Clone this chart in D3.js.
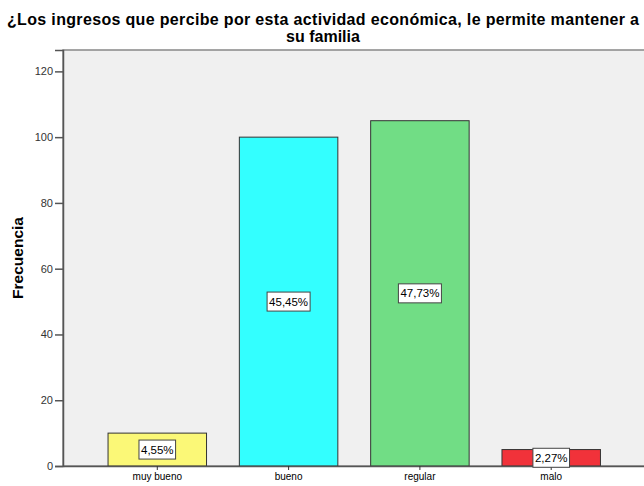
<!DOCTYPE html>
<html>
<head>
<meta charset="utf-8">
<script src="https://cdn.jsdelivr.net/npm/d3@7"></script>
<style>
  body { margin: 0; background: #fff; }
  svg { display: block; font-family: "Liberation Sans", Arial, sans-serif; }
</style>
</head>
<body>
<div id="chart-area"></div>
<script>
// data
var categories = ["muy bueno", "bueno", "regular", "malo"];
var frequencies = [10, 100, 105, 5];
var percentLabels = ["4,55%", "45,45%", "47,73%", "2,27%"];
var barColors = ["#fbf877", "#33ffff", "#71dd85", "#f1323a"];
var yTicks = [0, 20, 40, 60, 80, 100, 120];
var titleLines = ["¿Los ingresos que percibe por esta actividad económica, le permite mantener a", "su familia"];

var width = 644, height = 486;
var plotLeft = 63, plotTop = 50, plotRight = 645.5, plotBottom = 466;

var svg = d3.select("#chart-area")
	.append("svg")
	.attr("width", width)
	.attr("height", height);

var x = d3.scaleBand()
	.domain(categories)
	.range([plotLeft, plotRight])
	.paddingInner(0.25)
	.paddingOuter(0.343);

var y = d3.scaleLinear()
	.domain([0, 126.5])
	.range([plotBottom, plotTop]);

// plot background
svg.append("rect")
	.attr("x", plotLeft).attr("y", plotTop)
	.attr("width", plotRight - plotLeft).attr("height", plotBottom - plotTop)
	.attr("fill", "#f0f0f0")
	.attr("stroke", "#888")
	.attr("stroke-width", 1.5);

// bars
svg.selectAll("rect.bar").data(frequencies)
	.enter()
	.append("rect")
	.attr("class", "bar")
	.attr("x", (d, i) => x(categories[i]))
	.attr("y", (d) => y(d))
	.attr("width", x.bandwidth())
	.attr("height", (d) => plotBottom - y(d))
	.attr("fill", (d, i) => barColors[i])
	.attr("stroke", "#333")
	.attr("stroke-width", 1);

// y axis
var leftAxis = d3.axisLeft(y).tickValues(yTicks).tickSize(8).tickPadding(2);
var ya = svg.append("g")
	.attr("transform", "translate(" + plotLeft + ",0)")
	.call(leftAxis);
ya.select(".domain").attr("stroke", "#555").attr("stroke-width", 1.5);
ya.selectAll(".tick line").attr("stroke", "#555").attr("stroke-width", 1.5);
ya.selectAll(".tick text").attr("font-size", "11px").attr("fill", "#333")
	.attr("font-family", "'Liberation Sans', Arial, sans-serif");

// x axis
var bottomAxis = d3.axisBottom(x).tickSize(4).tickSizeOuter(0).tickPadding(3);
var xa = svg.append("g")
	.attr("transform", "translate(0," + plotBottom + ")")
	.call(bottomAxis);
xa.select(".domain").attr("stroke", "#555").attr("stroke-width", 1.5);
xa.selectAll(".tick line").attr("stroke", "#333");
xa.selectAll(".tick text").attr("font-size", "10px").attr("fill", "#000")
	.attr("font-family", "'Liberation Sans', Arial, sans-serif");

// percent labels in the middle of each bar
var lab = svg.selectAll("g.lab").data(frequencies)
	.enter()
	.append("g")
	.attr("class", "lab")
	.attr("transform", (d, i) => "translate(" + (x(categories[i]) + x.bandwidth() / 2) + "," + ((y(d) + plotBottom) / 2) + ")");

lab.append("text")
	.attr("text-anchor", "middle")
	.attr("dy", "0.36em")
	.attr("font-size", "11.5px")
	.attr("fill", "#000")
	.text((d, i) => percentLabels[i]);

lab.each(function () {
	var g = d3.select(this);
	var bb = g.select("text").node().getBBox();
	g.insert("rect", "text")
		.attr("x", bb.x - 2)
		.attr("y", -9.5)
		.attr("width", bb.width + 4)
		.attr("height", 19)
		.attr("fill", "#fff")
		.attr("stroke", "#444")
		.attr("stroke-width", 1);
});

// y label
svg.append("text")
	.attr("transform", "translate(23," + ((plotTop + plotBottom) / 2) + ") rotate(-90)")
	.attr("text-anchor", "middle")
	.attr("font-size", "15.5px")
	.attr("font-weight", "bold")
	.text("Frecuencia");

// title
svg.selectAll("text.title").data(titleLines)
	.enter()
	.append("text")
	.attr("class", "title")
	.attr("x", 323)
	.attr("y", (d, i) => 25 + i * 17)
	.attr("text-anchor", "middle")
	.attr("font-size", "16px")
	.attr("font-weight", "bold")
	.attr("textLength", (d, i) => i === 0 ? 632 : null)
	.attr("lengthAdjust", "spacing")
	.text((d) => d);
</script>
</body>
</html>
